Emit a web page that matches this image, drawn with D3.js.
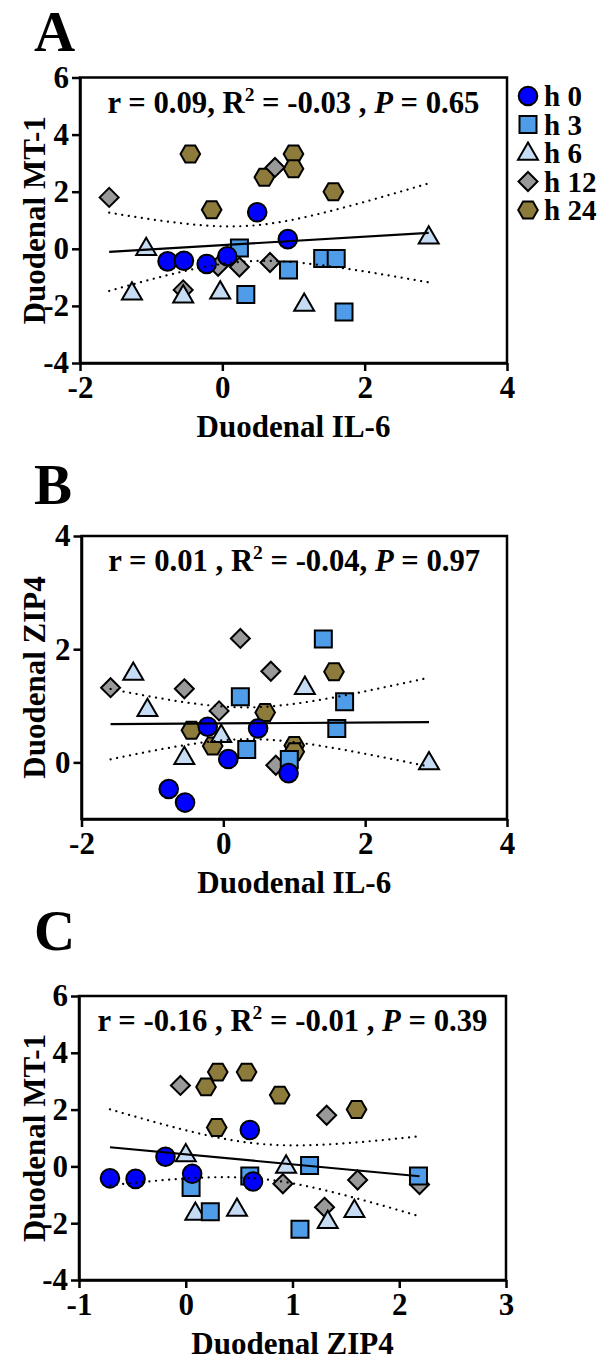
<!DOCTYPE html>
<html><head><meta charset="utf-8">
<script src="https://cdn.jsdelivr.net/npm/d3@7"></script>
<style>
body{margin:0;background:#fff}
svg{display:block}
text{font-family:"Liberation Serif","Times New Roman",serif;font-weight:bold;fill:#000;white-space:pre}
</style>
</head><body><svg id="c" width="608" height="1362"></svg>
<script>
// ---- data (one row per group, one value per animal) ----
const groups = ["h 0","h 3","h 6","h 12","h 24"];
const colors = ["#0000ff","#4f9de9","#c6dcf4","#999999","#8c7b3b"];
const shapes = ["circle","square","triangle","diamond","hexagon"];
const IL6 = [[-0.77,-0.54,-0.22,0.07,0.49,0.92],[0.24,0.93,0.33,1.41,1.60,1.71],[-1.07,2.90,-1.27,-0.55,-0.03,1.15],[-1.59,0.74,-0.06,0.24,0.67,-0.55],[-0.45,-0.15,0.59,1.00,1.00,1.56]];
const MT1 = [[-0.44,-0.42,-0.53,-0.26,1.28,0.34],[0.03,-0.74,-1.60,-0.34,-0.34,-2.21],[0.02,0.42,-1.54,-1.64,-1.50,-1.93],[1.80,2.85,-0.61,-0.64,-0.48,-1.44],[3.32,1.37,2.51,3.32,2.80,2.00]];
const ZIP4 = [[-0.47,-0.71,0.63,0.06,0.60,-0.19],[1.16,0.05,0.23,2.18,0.60,1.07],[0.94,0.00,1.58,0.09,0.48,1.33],[1.32,-0.05,0.91,2.19,1.61,1.30],[0.57,0.29,0.88,0.30,0.19,1.60]];
const ticksIL6 = [-2,0,2,4];
const ticksZIP4x = [-1,0,1,2,3];
const ticksMT1 = [-4,-2,0,2,4,6];
const ticksZIP4y = [0,2,4];
const statsA = [["r = 0.09, R",""],["2","sup"],[" = -0.03 , ",""],["P","it"],[" = 0.65",""]];
const statsB = [["r = 0.01 , R",""],["2","sup"],[" = -0.04, ",""],["P","it"],[" = 0.97",""]];
const statsC = [["r = -0.16 , R",""],["2","sup"],[" = -0.01 , ",""],["P","it"],[" = 0.39",""]];
const T975 = 2.0484; // t(0.975, df=28)

const panels = [
 {letter:"A", ly:51, xs:IL6, ys:MT1, xd:[-2,4], yd:[-4,6], xt:ticksIL6, yt:ticksMT1, l:80, r:507, t:77.5, b:363, xl:"Duodenal IL-6", yl:"Duodenal MT-1", stats:statsA, sy:113, legend:true},
 {letter:"B", ly:504, xs:IL6, ys:ZIP4, xd:[-2,4], yd:[-1,4], xt:ticksIL6, yt:ticksZIP4y, l:81.5, r:507, t:536, b:819, xl:"Duodenal IL-6", yl:"Duodenal ZIP4", stats:statsB, sy:571},
 {letter:"C", ly:950, xs:ZIP4, ys:MT1, xd:[-1,3], yd:[-4,6], xt:ticksZIP4x, yt:ticksMT1, l:79, r:506, t:996, b:1280, xl:"Duodenal ZIP4", yl:"Duodenal MT-1", stats:statsC, sy:1031}
];

const svg = d3.select("#c");

function shapePath(s){
  if(s==="circle") return d3.symbol(d3.symbolCircle, Math.PI*9.3*9.3)();
  if(s==="square") return "M-8.5,-8.5H8.5V8.5H-8.5Z";
  if(s==="triangle") return "M0,-10.5L10,6.8L-10,6.8Z";
  if(s==="diamond") return "M0,-9.5L9.5,0L0,9.5L-9.5,0Z";
  const r=9.8, h=r*Math.sqrt(3)/2;
  return `M${-r},0L${-r/2},${-h}L${r/2},${-h}L${r},0L${r/2},${h}L${-r/2},${h}Z`;
}

panels.forEach(p=>{
  const x = d3.scaleLinear().domain(p.xd).range([p.l,p.r]);
  const y = d3.scaleLinear().domain(p.yd).range([p.b,p.t]);
  const g = svg.append("g");
  // panel letter
  g.append("text").attr("x",34).attr("y",p.ly).attr("font-size",57).text(p.letter);
  // frame
  g.append("rect").attr("x",p.l).attr("y",p.t).attr("width",p.r-p.l).attr("height",p.b-p.t)
    .attr("fill","none").attr("stroke","#000").attr("stroke-width",2.5);
  // axes
  const ax = g.append("g").attr("transform",`translate(0,${p.b})`)
    .call(d3.axisBottom(x).tickValues(p.xt).tickFormat(d3.format("d")).tickSize(8).tickSizeOuter(0).tickPadding(5));
  const ay = g.append("g").attr("transform",`translate(${p.l},0)`)
    .call(d3.axisLeft(y).tickValues(p.yt).tickFormat(d3.format("d")).tickSize(8).tickSizeOuter(0).tickPadding(3));
  [ax,ay].forEach(a=>{
    a.select(".domain").attr("stroke","#000").attr("stroke-width",2.5);
    a.selectAll(".tick line").attr("stroke","#000").attr("stroke-width",2.5);
    a.selectAll(".tick text").attr("font-size",31).attr("font-family",null).attr("fill","#000");
  });
  ax.selectAll(".tick text").text(d=>d<0?"-"+Math.abs(d):d);
  ay.selectAll(".tick text").text(d=>d<0?"-"+Math.abs(d):d);
  // axis titles
  g.append("text").attr("x",(p.l+p.r)/2).attr("y",p.b+74).attr("text-anchor","middle").attr("font-size",31).text(p.xl);
  g.append("text").attr("transform",`translate(45,${(p.t+p.b)/2}) rotate(-90)`).attr("text-anchor","middle").attr("font-size",31).text(p.yl);
  // stats
  const st = g.append("text").attr("x",(p.l+p.r)/2).attr("y",p.sy).attr("text-anchor","middle").attr("font-size",30.7);
  p.stats.forEach(([t,k],i)=>{
    const ts = st.append("tspan").text(t);
    if(k==="sup") ts.attr("font-size",19.5).attr("dy",-12);
    else if(k==="it") ts.attr("font-style","italic");
    if(i===2) ts.attr("dy",12);
  });
  // points (drawn last group first)
  const pts = [];
  p.xs.forEach((arr,gi)=>arr.forEach((v,i)=>pts.push({x:v,y:p.ys[gi][i],g:gi})));
  for(let gi=groups.length-1; gi>=0; gi--){
    g.selectAll(null).data(pts.filter(d=>d.g===gi)).enter().append("path")
      .attr("d",shapePath(shapes[gi]))
      .attr("transform",d=>`translate(${x(d.x)},${y(d.y)})`)
      .attr("fill",colors[gi]).attr("stroke","#000").attr("stroke-width",2);
  }
  // regression + 95% CI
  const n=pts.length, mx=d3.mean(pts,d=>d.x), my=d3.mean(pts,d=>d.y);
  const sxx=d3.sum(pts,d=>(d.x-mx)**2), sxy=d3.sum(pts,d=>(d.x-mx)*(d.y-my)), syy=d3.sum(pts,d=>(d.y-my)**2);
  const b=sxy/sxx, a=my-b*mx, s=Math.sqrt((syy-b*sxy)/(n-2));
  const [x0,x1]=d3.extent(pts,d=>d.x);
  const xsamp=d3.range(0,41).map(i=>x0+(x1-x0)*i/40);
  const band=sgn=>xsamp.map(xv=>[xv, a+b*xv+sgn*T975*s*Math.sqrt(1/n+(xv-mx)**2/sxx)]);
  const line=d3.line().x(d=>x(d[0])).y(d=>y(d[1]));
  [1,-1].forEach(sg=>g.append("path").attr("d",line(band(sg))).attr("fill","none")
    .attr("stroke","#000").attr("stroke-width",2.2).attr("stroke-dasharray","0.1,6.5").attr("stroke-linecap","round"));
  g.append("path").attr("d",line([[x0,a+b*x0],[x1,a+b*x1]])).attr("fill","none").attr("stroke","#000").attr("stroke-width",2.2);
  // legend
  if(p.legend){
    groups.forEach((gn,gi)=>{
      const yy=96+gi*28.5;
      g.append("path").attr("d",shapePath(shapes[gi])).attr("transform",`translate(528,${yy})`)
        .attr("fill",colors[gi]).attr("stroke","#000").attr("stroke-width",2);
      g.append("text").attr("x",544).attr("y",yy).attr("dy","0.35em").attr("font-size",29).text(gn);
    });
  }
});
</script></body></html>
